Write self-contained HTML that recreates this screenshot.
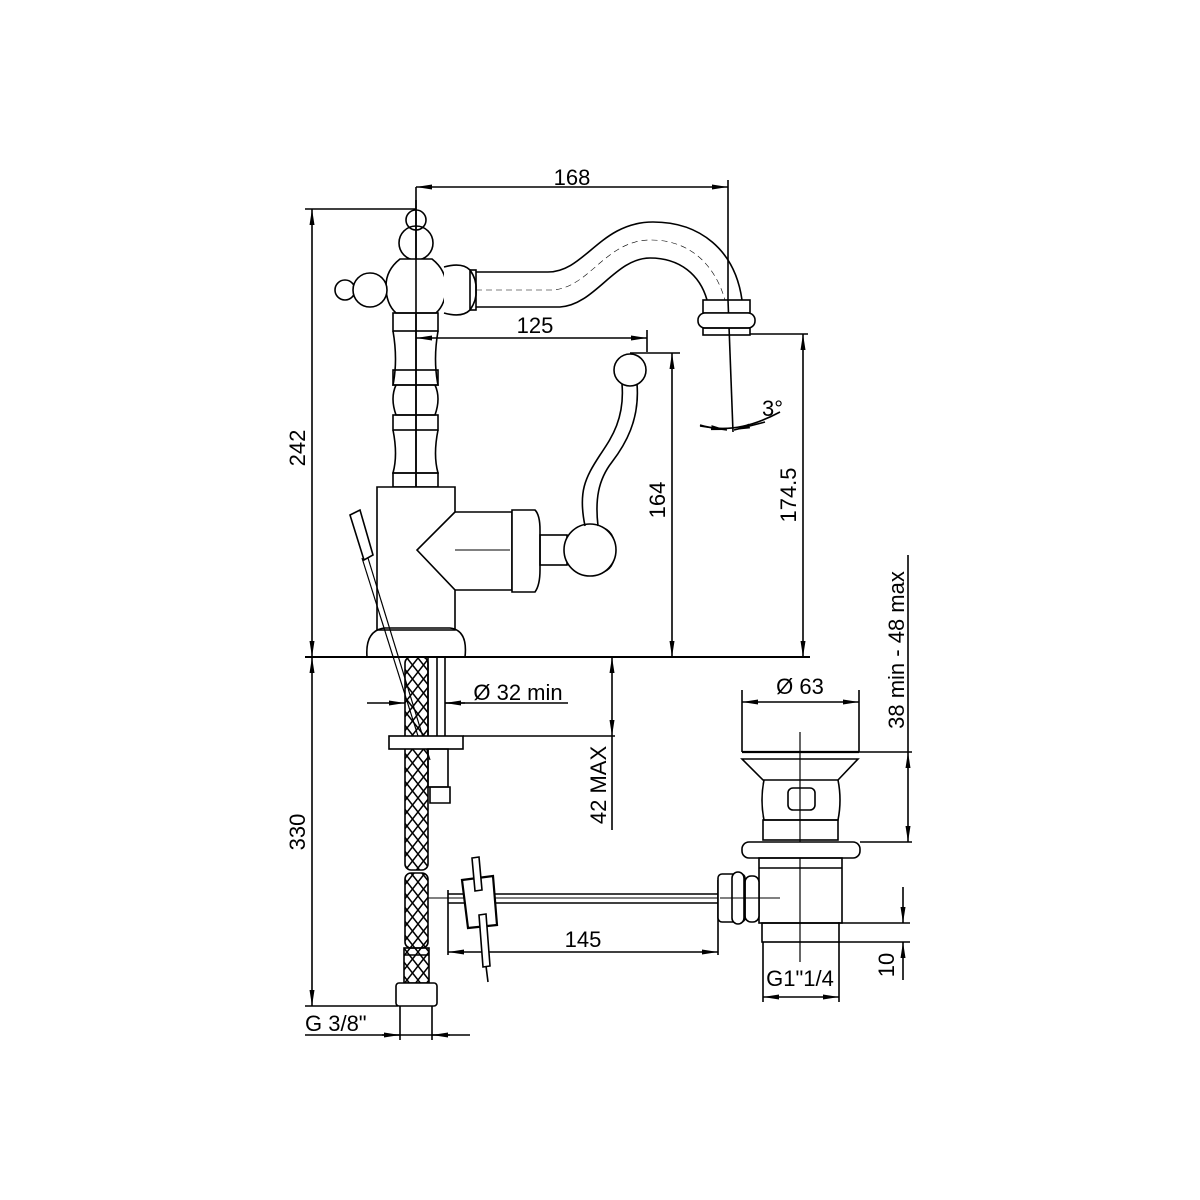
<!DOCTYPE html>
<html><head><meta charset="utf-8"><style>html,body{margin:0;padding:0;background:#fff}svg{display:block}</style></head>
<body>
<svg width="1200" height="1200" viewBox="0 0 1200 1200" xmlns="http://www.w3.org/2000/svg" font-family="Liberation Sans, sans-serif">
<defs>
<marker id="a" viewBox="0 0 16 6" refX="16" refY="3" markerWidth="16" markerHeight="6" orient="auto-start-reverse" markerUnits="userSpaceOnUse"><path d="M0,0.5 L16,3 L0,5.5 Z" fill="#000"/></marker>
<pattern id="mesh" width="11" height="14" patternUnits="userSpaceOnUse"><path d="M0,0 L11,14 M11,0 L0,14" stroke="#000" stroke-width="1.5"/></pattern>
</defs>
<g stroke="#000" stroke-width="1.6" fill="none">
<line x1="416" y1="187" x2="416" y2="490"/>
<line x1="728" y1="180" x2="728" y2="300"/>
<line x1="416" y1="187" x2="728" y2="187" marker-start="url(#a)" marker-end="url(#a)"/>
<line x1="305" y1="209" x2="416" y2="209"/>
<line x1="312" y1="209" x2="312" y2="657" marker-start="url(#a)" marker-end="url(#a)"/>
<line x1="305" y1="657" x2="810" y2="657" stroke-width="2"/>
<line x1="416" y1="338" x2="647" y2="338" marker-start="url(#a)" marker-end="url(#a)"/>
<line x1="647" y1="330" x2="647" y2="352"/>
<line x1="630" y1="353" x2="680" y2="353"/>
<line x1="672" y1="353" x2="672" y2="657" marker-start="url(#a)" marker-end="url(#a)"/>
<line x1="750" y1="334" x2="808" y2="334"/>
<line x1="803" y1="334" x2="803" y2="657" marker-start="url(#a)" marker-end="url(#a)"/>
<line x1="728" y1="300" x2="733" y2="432"/>
<path d="M700,425 Q735,436 780,412"/>
<line x1="700" y1="426" x2="727" y2="430" marker-end="url(#a)"/>
<line x1="765" y1="422" x2="734" y2="430" marker-end="url(#a)"/>
<line x1="312" y1="657" x2="312" y2="1006" marker-start="url(#a)" marker-end="url(#a)"/>
<line x1="305" y1="1006" x2="398" y2="1006"/>
<line x1="305" y1="1035" x2="470" y2="1035"/>
<line x1="400" y1="1006" x2="400" y2="1040"/><line x1="432" y1="1006" x2="432" y2="1040"/>
<line x1="382" y1="1035" x2="400" y2="1035" marker-end="url(#a)"/>
<line x1="450" y1="1035" x2="432" y2="1035" marker-end="url(#a)"/>
<line x1="367" y1="703" x2="405" y2="703" marker-end="url(#a)"/>
<line x1="465" y1="703" x2="445" y2="703" marker-end="url(#a)"/>
<line x1="445" y1="703" x2="568" y2="703"/>
<line x1="463" y1="736" x2="615" y2="736"/>
<line x1="612" y1="657" x2="612" y2="736" marker-start="url(#a)" marker-end="url(#a)"/>
<line x1="612" y1="736" x2="612" y2="830"/>
<line x1="448" y1="890" x2="448" y2="955"/>
<line x1="718" y1="880" x2="718" y2="955"/>
<line x1="448" y1="952" x2="718" y2="952" marker-start="url(#a)" marker-end="url(#a)"/>
<line x1="742" y1="690" x2="742" y2="752"/><line x1="859" y1="690" x2="859" y2="752"/>
<line x1="742" y1="702" x2="859" y2="702" marker-start="url(#a)" marker-end="url(#a)"/>
<line x1="859" y1="752" x2="912" y2="752"/><line x1="860" y1="842" x2="912" y2="842"/>
<line x1="908" y1="555" x2="908" y2="752"/>
<line x1="908" y1="752" x2="908" y2="842" marker-start="url(#a)" marker-end="url(#a)"/>
<line x1="838" y1="923" x2="910" y2="923"/><line x1="838" y1="942" x2="910" y2="942"/>
<line x1="903" y1="887" x2="903" y2="923" marker-end="url(#a)"/>
<line x1="903" y1="980" x2="903" y2="942" marker-end="url(#a)"/>
<line x1="763" y1="942" x2="763" y2="1002"/><line x1="839" y1="942" x2="839" y2="1002"/>
<line x1="763" y1="997" x2="839" y2="997" marker-start="url(#a)" marker-end="url(#a)"/>
<line x1="800" y1="732" x2="800" y2="962" stroke-width="1.2"/>
<circle cx="416" cy="220" r="10"/>
<circle cx="416" cy="243" r="17"/>
<path d="M400,259 L432,259 Q446,270 446,286 Q446,304 436,313 L396,313 Q386,304 386,286 Q386,270 400,259 Z" fill="#fff"/>
<line x1="416" y1="200" x2="416" y2="490"/>
<circle cx="345" cy="290" r="10" fill="#fff"/>
<circle cx="370" cy="290" r="17" fill="#fff"/>
<path d="M444,267 Q462,262 470,270 Q477,280 476,290 Q477,300 470,310 Q462,318 444,313" fill="#fff"/>
<rect x="470" y="270" width="6" height="40"/>
<path d="M476,272 L548,272 C585,272 600,222 653,222 C700,222 735,250 742,300"/>
<path d="M476,307 L560,307 C595,305 615,258 650,258 C680,258 700,275 707,300"/>
<path d="M476,290 L552,290 C590,288 605,240 651,240 C690,240 715,265 725,300" stroke-width="0.6" stroke-dasharray="6 4"/>
<rect x="703" y="300" width="47" height="13"/>
<rect x="698" y="313" width="57" height="15" rx="7" fill="#fff"/>
<rect x="703" y="328" width="47" height="7"/>
<rect x="393" y="313" width="45" height="18"/>
<path d="M393,331 Q398,360 393,385 L438,385 Q433,360 438,331"/>
<rect x="393" y="370" width="45" height="15"/>
<path d="M396,385 Q390,398 396,415 L435,415 Q441,398 435,385"/>
<rect x="393" y="415" width="45" height="15"/>
<path d="M393,430 Q398,455 393,473 L438,473 Q433,455 438,430"/>
<rect x="393" y="473" width="45" height="14"/>
<path d="M377,487 L455,487 L455,512 L417,550 L455,590 L455,630 L377,630 Z" fill="#fff"/>
<path d="M455,512 L512,512 L512,590 L455,590"/>
<path d="M512,510 L535,510 Q540,515 540,530 L540,570 Q540,585 535,592 L512,592 Z" fill="#fff"/>
<line x1="455" y1="550" x2="510" y2="550" stroke-width="1"/>
<rect x="540" y="535" width="27" height="30"/>
<path d="M600,527 Q615,530 615,550 Q615,570 600,573" />
<circle cx="590" cy="550" r="26" fill="#fff"/>
<path d="M367,657 Q365,630 385,628 L450,628 Q468,630 465,657"/>
<circle cx="630" cy="370" r="16" fill="#fff"/>
<path d="M622,384 C625,420 610,440 600,455 C585,478 578,492 585,526"/>
<path d="M637,384 C640,420 625,445 612,462 C598,480 595,500 598,526"/>
<path d="M350,515 L360,510 L373,555 L364,560 Z"/>
<line x1="362" y1="558" x2="418" y2="736" stroke-width="1.2"/>
<line x1="368" y1="558" x2="430" y2="760" stroke-width="1.2"/>
<rect x="405" y="657" width="23" height="213" rx="6" fill="url(#mesh)"/>
<rect x="405" y="873" width="23" height="75" rx="6" fill="url(#mesh)"/>
<rect x="404" y="948" width="25" height="35" fill="url(#mesh)"/>
<line x1="404" y1="955" x2="429" y2="955"/>
<rect x="396" y="983" width="41" height="23" rx="3" fill="#fff"/>
<line x1="428" y1="657" x2="428" y2="740"/><line x1="437" y1="657" x2="437" y2="740"/><line x1="445" y1="657" x2="445" y2="740"/>
<rect x="389" y="736" width="74" height="13" fill="#fff"/>
<path d="M428,749 L448,749 L448,787 L428,787 Z"/>
<path d="M430,787 L450,787 L450,803 L430,803 Z"/>
<line x1="428" y1="898" x2="720" y2="898" stroke-width="1"/>
<line x1="448" y1="894" x2="720" y2="894"/>
<line x1="448" y1="903" x2="720" y2="903"/>
<path d="M462,880 L493,876 L497,925 L468,928 Z" fill="#fff" stroke-width="2.2"/>
<path d="M472,858 L479,857 L482,890 L475,891 Z" fill="#fff"/>
<path d="M479,915 L486,914 L490,966 L483,967 Z" fill="#fff"/>
<line x1="486" y1="966" x2="488" y2="982"/>
<line x1="742" y1="752" x2="859" y2="752" stroke-width="2.2"/>
<path d="M742,759 L858,759 L838,780 L763,780 Z"/>
<path d="M764,780 Q760,800 764,820 L838,820 Q842,800 838,780"/>
<rect x="788" y="788" width="27" height="22" rx="5"/>
<rect x="763" y="820" width="75" height="20"/>
<rect x="742" y="842" width="118" height="16" rx="7" fill="#fff"/>
<rect x="759" y="858" width="83" height="65"/>
<line x1="759" y1="868" x2="842" y2="868"/>
<rect x="762" y="923" width="77" height="19"/>
<rect x="745" y="876" width="14" height="46" rx="6" fill="#fff"/>
<rect x="718" y="874" width="27" height="48" rx="4" fill="#fff"/>
<rect x="732" y="872" width="12" height="52" rx="6" fill="#fff"/>
<line x1="720" y1="898" x2="780" y2="898" stroke-width="1"/>
</g>
<g fill="#000" font-size="22">
<text x="572" y="185" text-anchor="middle">168</text>
<text x="535" y="333" text-anchor="middle">125</text>
<text x="518" y="700" text-anchor="middle">Ø 32  min</text>
<text x="800" y="694" text-anchor="middle">Ø 63</text>
<text x="583" y="947" text-anchor="middle">145</text>
<text x="800" y="986" text-anchor="middle">G1"1/4</text>
<text x="305" y="1031">G  3/8"</text>
<text x="762" y="416">3°</text>
<text transform="translate(305,448) rotate(-90)" text-anchor="middle">242</text>
<text transform="translate(305,832) rotate(-90)" text-anchor="middle">330</text>
<text transform="translate(665,500) rotate(-90)" text-anchor="middle">164</text>
<text transform="translate(796,495) rotate(-90)" text-anchor="middle">174.5</text>
<text transform="translate(606,785) rotate(-90)" text-anchor="middle">42 MAX</text>
<text transform="translate(904,650) rotate(-90)" text-anchor="middle">38  min  -  48  max</text>
<text transform="translate(894,965) rotate(-90)" text-anchor="middle">10</text>
</g>
</svg>
</body></html>
